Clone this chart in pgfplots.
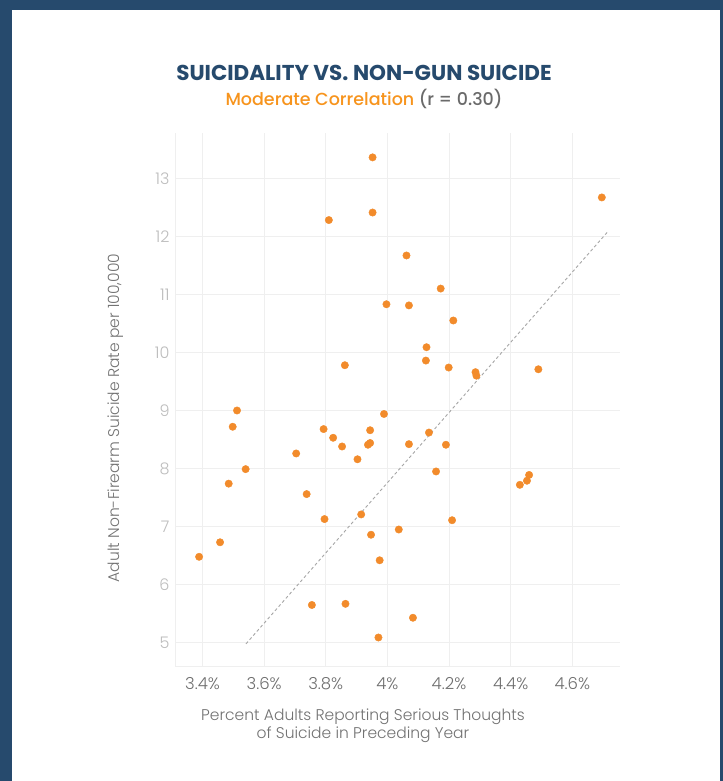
\documentclass[border=0pt]{standalone}
\usepackage{fontspec}
\setmainfont{Poppins}
\newfontfamily\plight{Poppins Light}
\newfontfamily\pmed{Poppins Medium}
\usepackage{pgfplots}
\pgfplotsset{compat=1.18}
\definecolor{navy}{HTML}{264A6D}
\definecolor{dotorange}{HTML}{F28B2B}
\definecolor{suborange}{HTML}{F7941D}
\definecolor{gridgray}{HTML}{EFEFEF}
\definecolor{ticklab}{HTML}{6E6E6E}
\definecolor{yticklab}{HTML}{BDBDBD}
\definecolor{labgray}{HTML}{727272}
\definecolor{rgray}{HTML}{6A6A6A}
\begin{document}
\begin{tikzpicture}
\fill[navy] (0,0) rectangle (723bp,781bp);
\fill[white] (12bp,0) rectangle (720bp,771bp);
\node[font=\fontsize{21.5bp}{24bp}\selectfont\bfseries, text=navy, anchor=base] at (364bp,700bp) {SUICIDALITY VS. NON-GUN SUICIDE};
\node[font=\fontsize{17.5bp}{20bp}\selectfont\pmed, anchor=base] at (364bp,675bp) {\textcolor{suborange}{Moderate Correlation} \textcolor{rgray}{(r = 0.30)}};
\begin{axis}[
  at={(175.7bp,114.3bp)}, anchor=south west,
  scale only axis, width=444.3bp, height=533.7bp,
  xmin=3.313, xmax=4.755, ymin=4.587, ymax=13.78,
  xtick={3.4,3.6,3.8,4.0,4.2,4.4,4.6},
  xticklabels={3.4\%,3.6\%,3.8\%,4\%,4.2\%,4.4\%,4.6\%},
  ytick={5,6,7,8,9,10,11,12,13},
  /pgf/number format/assume math mode=true,
  axis x line*=bottom, axis y line*=left,
  axis line style={draw=gridgray, line width=1bp, -},
  major tick length=0pt,
  grid=major, grid style={draw=gridgray, line width=1bp},
  xticklabel style={font=\fontsize{16.5bp}{18bp}\selectfont\plight, text=ticklab, anchor=base, yshift=-23bp},
  yticklabel style={font=\fontsize{16bp}{18bp}\selectfont\plight, text=yticklab, anchor=east, inner sep=0pt, xshift=-6bp},
  xlabel={Percent Adults Reporting Serious Thoughts\\of Suicide in Preceding Year},
  xlabel style={font=\fontsize{15.5bp}{18bp}\selectfont\plight, text=labgray, align=center, at={(axis description cs:0.4216,-0.111)}, anchor=center},
  ylabel={Adult Non-Firearm Suicide Rate per 100,000},
  ylabel style={font=\fontsize{15.5bp}{18bp}\selectfont\plight, text=labgray, at={(axis description cs:-0.134,0.466)}, anchor=center},
  clip=false,
]
\addplot[draw=gray!70, line width=0.9bp, dash pattern=on 3bp off 2.5bp] coordinates {(3.541,4.98) (4.717,12.09)};
\addplot[only marks, mark=*, mark size=3.7bp, color=dotorange, mark options={fill=dotorange, draw=dotorange}] coordinates {
(3.952,13.36) (3.810,12.28) (3.952,12.41) (3.997,10.83) (3.862,9.78) (3.512,9.00)
(4.696,12.67) (4.062,11.67) (4.173,11.10) (4.070,10.81) (4.214,10.55) (4.127,10.09)
(4.125,9.86) (4.199,9.74) (4.286,9.66) (4.289,9.60) (4.490,9.71) (3.498,8.72)
(3.485,7.74) (3.540,7.99) (3.389,6.48) (3.457,6.73) (3.704,8.26) (3.738,7.56)
(3.793,8.68) (3.824,8.53) (3.853,8.38) (3.903,8.16) (3.937,8.41) (3.944,8.44) (3.944,8.66)
(3.989,8.94) (3.796,7.13) (3.915,7.21) (3.947,6.86) (3.975,6.42) (3.755,5.65)
(3.864,5.67) (3.971,5.09) (4.135,8.62) (4.070,8.42) (4.190,8.41) (4.158,7.95)
(4.430,7.72) (4.453,7.79) (4.460,7.89) (4.210,7.11) (4.037,6.95) (4.083,5.43)
};
\end{axis}
\end{tikzpicture}
\end{document}
